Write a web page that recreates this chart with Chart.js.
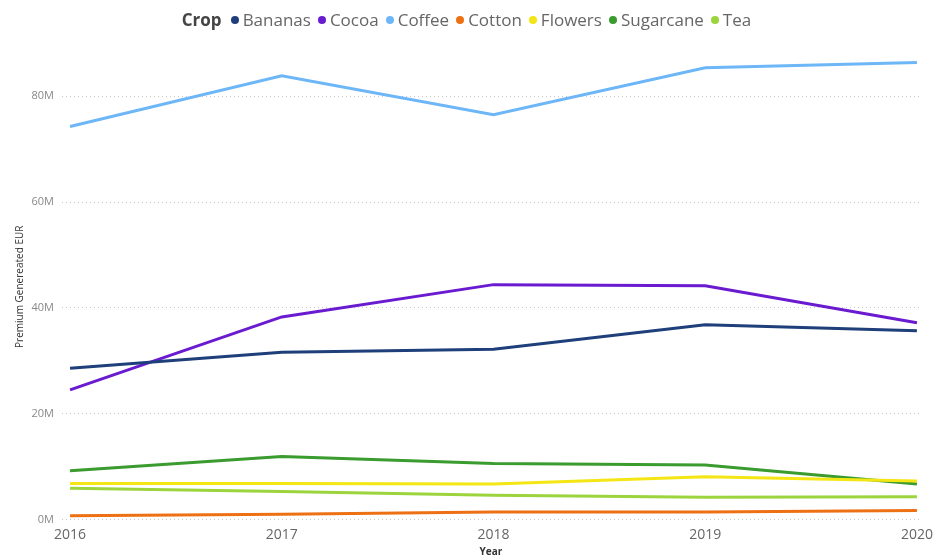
<!DOCTYPE html>
<html>
<head>
<meta charset="utf-8">
<script src="https://cdn.jsdelivr.net/npm/chart.js@4"></script>
<style>
  html, body { margin: 0; padding: 0; background: #fff; }
  #wrap { position: relative; width: 940px; height: 558px; }
  #legend {
    position: absolute; top: 8px; left: 0; width: 940px;
    display: flex; justify-content: center; align-items: center;
    font-family: "Open Sans", sans-serif; font-size: 17px; color: #666;
    line-height: 24px;
  }
  #legend .title { font-weight: bold; color: #444; margin-right: 9px; }
  #legend .item { display: flex; align-items: center; margin-right: 7px; }
  #legend .dot { width: 8px; height: 8px; border-radius: 50%; margin-right: 4px; }
</style>
</head>
<body>
<div id="wrap">
  <div id="legend"></div>
  <canvas id="chart" width="940" height="558"></canvas>
</div>
<script>
// values in millions of EUR
const years = [2016, 2017, 2018, 2019, 2020];
const crops = ['Bananas', 'Cocoa', 'Coffee', 'Cotton', 'Flowers', 'Sugarcane', 'Tea'];
const bananas   = [28.6, 31.6, 32.2, 36.8, 35.7];
const cocoa     = [24.5, 38.3, 44.4, 44.2, 37.2];
const coffee    = [74.3, 83.9, 76.5, 85.4, 86.4];
const cotton    = [0.7, 1.0, 1.4, 1.4, 1.7];
const flowers   = [6.8, 6.8, 6.7, 8.1, 7.3];
const sugarcane = [9.2, 11.9, 10.6, 10.3, 6.7];
const tea       = [5.9, 5.3, 4.6, 4.2, 4.3];
const yTicks = [0, 20, 40, 60, 80];

const colors = ['#1e3f7a', '#6a1bd0', '#6db6f7', '#ee7014', '#f4e614', '#3a9b2e', '#9bd43c'];
const series = [bananas, cocoa, coffee, cotton, flowers, sugarcane, tea];

const datasets = crops.map(function(name, i) {
    return {
        label: name,
        data: series[i].map(function(v, j) { return { x: years[j], y: v }; }),
        borderColor: colors[i],
        backgroundColor: colors[i],
        borderWidth: 3,
        pointRadius: 0,
        tension: 0
    };
});

// html legend with the "Crop" heading inline
const legendEl = document.getElementById('legend');
legendEl.innerHTML = '<span class="title">Crop</span>' + crops.map(function(name, i) {
    return '<span class="item"><span class="dot" style="background:' + colors[i] + '"></span>' + name + '</span>';
}).join('');

const fontFamily = '"Open Sans", sans-serif';

new Chart(document.getElementById('chart').getContext('2d'), {
    type: 'line',
    data: { datasets: datasets },
    options: {
        responsive: false,
        animation: false,
        layout: { padding: { left: 14, right: 20, top: 54, bottom: 0 } },
        plugins: { legend: { display: false }, tooltip: { enabled: false } },
        scales: {
            x: {
                type: 'linear',
                min: 2015.962,
                max: 2020.014,
                ticks: {
                    stepSize: 1,
                    includeBounds: false,
                    padding: 7,
                    color: '#666',
                    font: { family: fontFamily, size: 14 },
                    maxRotation: 0,
                    callback: function(v) { return years.indexOf(v) >= 0 ? String(v) : ''; }
                },
                grid: { display: false, drawTicks: false },
                border: { display: false },
                title: {
                    display: true,
                    text: 'Year',
                    color: '#333',
                    font: { family: fontFamily, size: 10, weight: 'bold' },
                    padding: { top: 0, bottom: 0 }
                },
                afterFit: function(scale) { scale.height = 38.5; }
            },
            y: {
                min: 0,
                max: 88,
                afterBuildTicks: function(scale) {
                    scale.ticks = yTicks.map(function(v) { return { value: v }; });
                },
                ticks: {
                    padding: 8,
                    color: '#888',
                    font: { family: fontFamily, size: 11 },
                    callback: function(v) { return v + 'M'; }
                },
                grid: {
                    color: '#c8c8c8',
                    lineWidth: 1,
                    drawTicks: false
                },
                border: { display: false, dash: [1, 3] },
                title: {
                    display: true,
                    text: 'Premium Genereated EUR',
                    color: '#333',
                    font: { family: fontFamily, size: 10 },
                    padding: { top: 0, bottom: 0 }
                },
                afterFit: function(scale) { scale.width = 48; }
            }
        }
    }
});
</script>
</body>
</html>
